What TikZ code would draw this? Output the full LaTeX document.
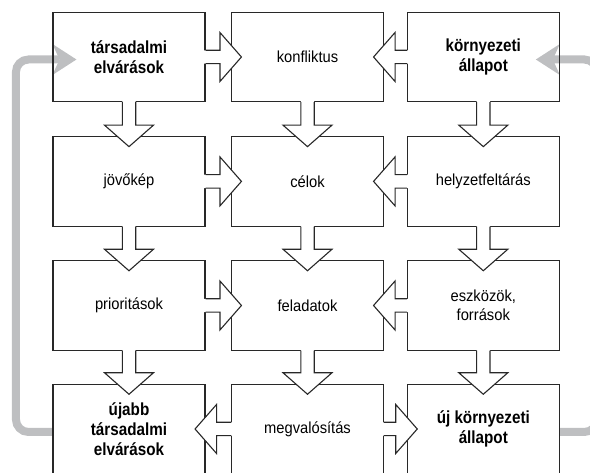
\documentclass[tikz,border=0pt]{standalone}
\usepackage{fontspec}
\setmainfont{Liberation Sans}
\newfontfamily\labelfont{Liberation Sans}[FakeStretch=0.92]
\newfontfamily\headfont{Liberation Sans}[FakeStretch=0.87]
\usetikzlibrary{calc,arrows.meta,backgrounds}

\definecolor{edge}{RGB}{40,40,40}
\definecolor{loopgray}{RGB}{190,191,193}

% block-arrow geometry
\def\arShaft{6.7pt}
\def\arHead{24.5pt}
\def\arBase{11pt}
\def\arTip{10.5pt}

\tikzset{
  panel/.style={draw=edge, line width=1.1pt, minimum width=152pt, minimum height=89.4pt,
    inner sep=0pt, align=center, font=\labelfont\fontsize{16}{19}\selectfont},
  keypanel/.style={panel, font=\headfont\bfseries\fontsize{17.5}{20}\selectfont},
  blockedge/.style={draw=edge, line width=1.1pt, line join=miter},
  feedback/.style={draw=loopgray, line width=8pt, rounded corners=12.5pt,
    -{Stealth[length=24pt, width=31pt, inset=7pt, line width=0pt]}}
}

% eastward block arrow from #1 into #2
\newcommand\arrowE[2]{%
  \path[fill=white] let \p1=(#1.east), \p2=(#2.west) in
    (\x1-2pt,\y1+\arShaft) -- (\x2-\arBase,\y1+\arShaft) -- (\x2-\arBase,\y1+\arHead) -- (\x2+\arTip,\y1)
    -- (\x2-\arBase,\y1-\arHead) -- (\x2-\arBase,\y1-\arShaft) -- (\x1-2pt,\y1-\arShaft) -- cycle;
  \draw[blockedge] let \p1=(#1.east), \p2=(#2.west) in
    (\x1,\y1+\arShaft) -- (\x2-\arBase,\y1+\arShaft) -- (\x2-\arBase,\y1+\arHead) -- (\x2+\arTip,\y1)
    -- (\x2-\arBase,\y1-\arHead) -- (\x2-\arBase,\y1-\arShaft) -- (\x1,\y1-\arShaft);
}
% westward block arrow from #1 into #2
\newcommand\arrowW[2]{%
  \path[fill=white] let \p1=(#1.west), \p2=(#2.east) in
    (\x1+2pt,\y1+\arShaft) -- (\x2+\arBase,\y1+\arShaft) -- (\x2+\arBase,\y1+\arHead) -- (\x2-\arTip,\y1)
    -- (\x2+\arBase,\y1-\arHead) -- (\x2+\arBase,\y1-\arShaft) -- (\x1+2pt,\y1-\arShaft) -- cycle;
  \draw[blockedge] let \p1=(#1.west), \p2=(#2.east) in
    (\x1,\y1+\arShaft) -- (\x2+\arBase,\y1+\arShaft) -- (\x2+\arBase,\y1+\arHead) -- (\x2-\arTip,\y1)
    -- (\x2+\arBase,\y1-\arHead) -- (\x2+\arBase,\y1-\arShaft) -- (\x1,\y1-\arShaft);
}
% downward block arrow from #1 into #2
\newcommand\arrowS[2]{%
  \path[fill=white] let \p1=(#1.south), \p2=(#2.north) in
    (\x1-\arShaft,\y1+2pt) -- (\x1-\arShaft,\y2+\arBase) -- (\x1-\arHead,\y2+\arBase) -- (\x1,\y2-\arTip)
    -- (\x1+\arHead,\y2+\arBase) -- (\x1+\arShaft,\y2+\arBase) -- (\x1+\arShaft,\y1+2pt) -- cycle;
  \draw[blockedge] let \p1=(#1.south), \p2=(#2.north) in
    (\x1-\arShaft,\y1) -- (\x1-\arShaft,\y2+\arBase) -- (\x1-\arHead,\y2+\arBase) -- (\x1,\y2-\arTip)
    -- (\x1+\arHead,\y2+\arBase) -- (\x1+\arShaft,\y2+\arBase) -- (\x1+\arShaft,\y1);
}

\begin{document}
\begin{tikzpicture}[x=1pt, y=-1pt]
  \useasboundingbox (0,0) rectangle (590,473);
  \clip (0,0) rectangle (590,473);

  % panels
  \node[keypanel] (n11) at (129,57)      {társadalmi\\elvárások};
  \node[panel]    (n12) at (307.5,57)    {konfliktus};
  \node[keypanel] (n13) at (483.3,57)    {környezeti\\állapot};
  \node[panel]    (n21) at (129,181.4)   {jövőkép};
  \node[panel]    (n22) at (307.5,181.4) {célok};
  \node[panel]    (n23) at (483.3,181.4) {helyzetfeltárás};
  \node[panel]    (n31) at (129,305.5)   {prioritások};
  \node[panel]    (n32) at (307.5,305.5) {feladatok};
  \node[panel]    (n33) at (483.3,305.5) {eszközök,\\források};
  \node[keypanel] (n41) at (129,429)     {újabb\\társadalmi\\elvárások};
  \node[panel]    (n42) at (307.5,429)   {megvalósítás};
  \node[keypanel] (n43) at (483.3,429)   {új környezeti\\állapot};

  % gray feedback loops, beneath the panel outlines
  \begin{scope}[on background layer]
    \draw[feedback] ([yshift=-3pt]n41.west) -- ++(-36.5pt,0) |- ($(n11.west)+(24pt,-2.5pt)$);
    \draw[feedback] ([yshift=-3pt]n43.east) -- ++(37pt,0) |- ($(n13.east)+(-24pt,-2.5pt)$);
  \end{scope}

  % horizontal block arrows
  \arrowE{n11}{n12}
  \arrowW{n13}{n12}
  \arrowE{n21}{n22}
  \arrowW{n23}{n22}
  \arrowE{n31}{n32}
  \arrowW{n33}{n32}
  \arrowW{n42}{n41}
  \arrowE{n42}{n43}

  % vertical block arrows
  \arrowS{n11}{n21} \arrowS{n12}{n22} \arrowS{n13}{n23}
  \arrowS{n21}{n31} \arrowS{n22}{n32} \arrowS{n23}{n33}
  \arrowS{n31}{n41} \arrowS{n32}{n42} \arrowS{n33}{n43}
\end{tikzpicture}
\end{document}
